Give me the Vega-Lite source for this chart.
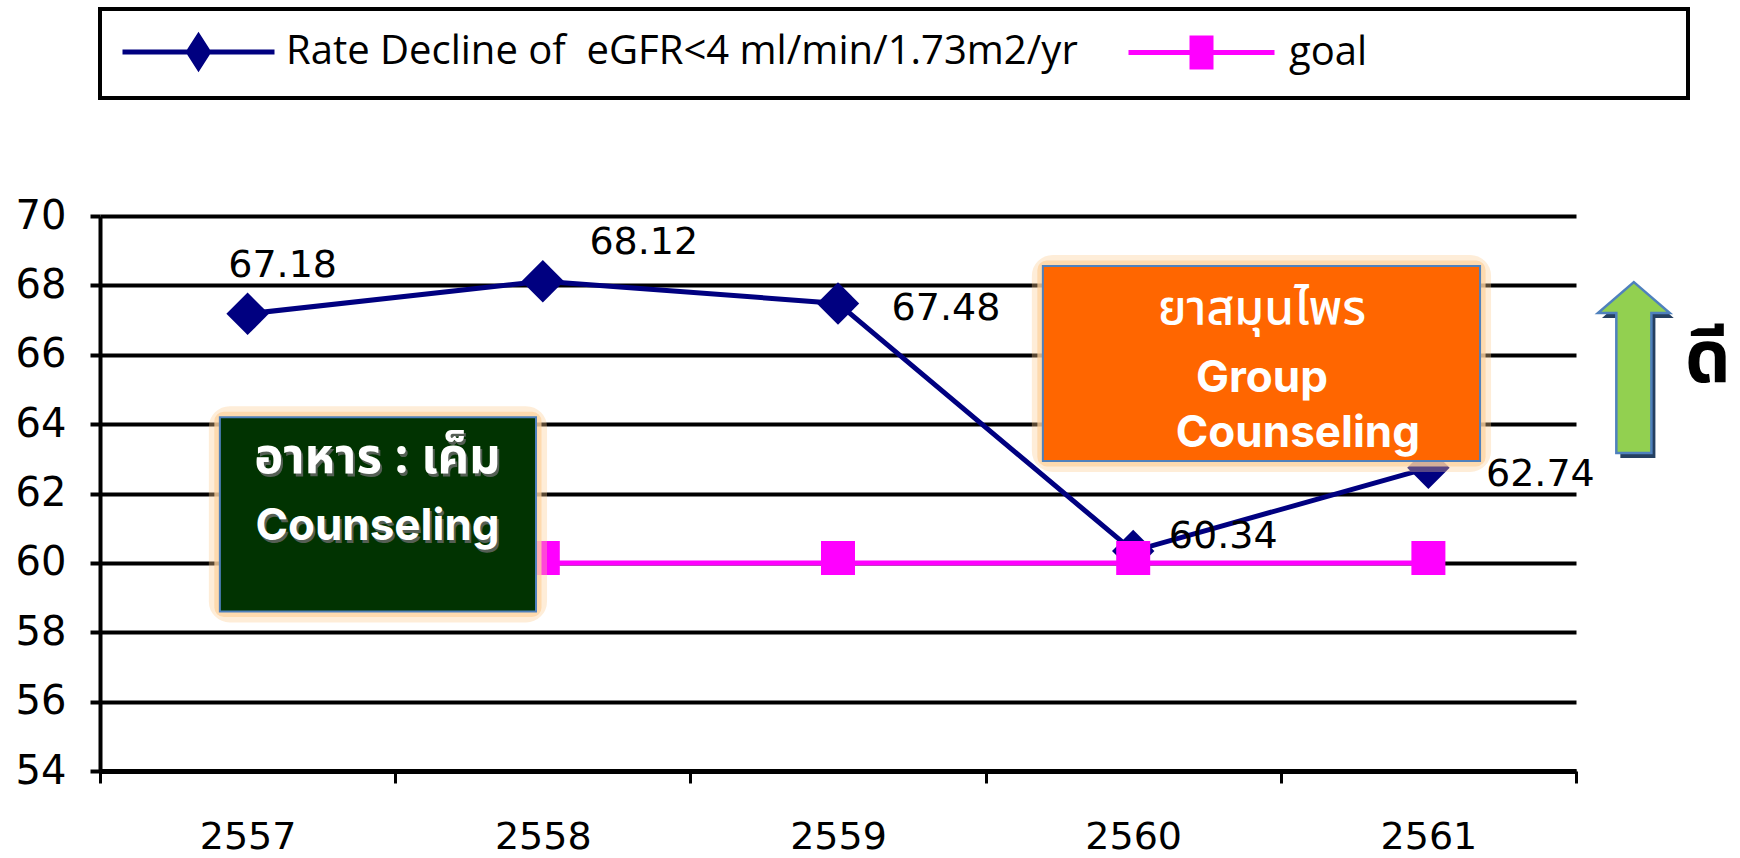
{
  "$schema": "https://vega.github.io/schema/vega-lite/v6.json",
  "width": 1476,
  "height": 555,
  "autosize": {"type": "none"},
  "padding": {"left": 100, "top": 216, "right": 164, "bottom": 87},
  "background": "white",
  "config": {"view": {"stroke": null}, "legend": {"strokeWidth": 4}},
  "datasets": {
    "series": [
      {"year": "2557", "series": "Rate Decline of  eGFR<4 ml/min/1.73m2/yr", "value": 67.18},
      {"year": "2558", "series": "Rate Decline of  eGFR<4 ml/min/1.73m2/yr", "value": 68.12},
      {"year": "2559", "series": "Rate Decline of  eGFR<4 ml/min/1.73m2/yr", "value": 67.48},
      {"year": "2560", "series": "Rate Decline of  eGFR<4 ml/min/1.73m2/yr", "value": 60.34},
      {"year": "2561", "series": "Rate Decline of  eGFR<4 ml/min/1.73m2/yr", "value": 62.74},
      {"year": "2557", "series": "goal", "value": 60},
      {"year": "2558", "series": "goal", "value": 60},
      {"year": "2559", "series": "goal", "value": 60},
      {"year": "2560", "series": "goal", "value": 60},
      {"year": "2561", "series": "goal", "value": 60}
    ],
    "boxes": [
      {"box": "diet", "x1": 2556.906, "x2": 2557.977, "y1": 58.6, "y2": 64.2},
      {"box": "herb", "x1": 2559.694, "x2": 2561.175, "y1": 62.94, "y2": 68.56}
    ],
    "notes": [
      {"box": "diet", "line": "thai", "text": "อาหาร : เค็ม", "x": 2557.44, "y": 62.59},
      {"box": "diet", "line": "latin", "text": "Counseling", "x": 2557.44, "y": 60.66},
      {"box": "herb", "line": "thai", "text": "ยาสมุนไพร", "x": 2560.436, "y": 66.89},
      {"box": "herb", "line": "latin", "text": "Group", "x": 2560.436, "y": 64.93},
      {"box": "herb", "line": "latin", "text": "Counseling", "x": 2560.558, "y": 63.34}
    ],
    "marker": [
      {"item": "arrow", "label": "", "x": 2561.696, "y": 65.63},
      {"item": "word", "label": "ดี", "x": 2561.869, "y": 65.21}
    ]
  },
  "layer": [
    {
      "data": {"name": "series"},
      "encoding": {
        "x": {
          "field": "year",
          "type": "ordinal",
          "scale": {"paddingInner": 0, "paddingOuter": 0},
          "axis": {
            "title": null,
            "labelAngle": 0,
            "tickBand": "extent",
            "grid": false,
            "tickSize": 12,
            "tickWidth": 3,
            "tickColor": "black",
            "domainColor": "black",
            "domainWidth": 5,
            "labelPadding": 35,
            "labelFont": "DejaVu Sans",
            "labelFontSize": 38,
            "labelColor": "black"
          }
        },
        "y": {
          "field": "value",
          "type": "quantitative",
          "scale": {"domain": [54, 70], "nice": false, "zero": false},
          "axis": {
            "title": null,
            "values": [54, 56, 58, 60, 62, 64, 66, 68, 70],
            "grid": true,
            "gridColor": "black",
            "gridWidth": 4,
            "domainColor": "black",
            "domainWidth": 4,
            "tickColor": "black",
            "tickWidth": 4,
            "tickSize": 10,
            "labelPadding": 24,
            "labelFont": "DejaVu Sans",
            "labelFontSize": 40,
            "labelColor": "black"
          }
        }
      },
      "layer": [
        {
          "transform": [{"filter": "datum.series !== 'goal'"}],
          "mark": {"type": "line", "color": "#000080", "strokeWidth": 5}
        },
        {
          "transform": [{"filter": "datum.series !== 'goal'"}],
          "mark": {"type": "point", "shape": "diamond", "size": 1800, "filled": true, "color": "#000080", "opacity": 1}
        },
        {
          "transform": [{"filter": "datum.series === 'goal'"}],
          "mark": {"type": "line", "color": "#FF00FF", "strokeWidth": 5}
        },
        {
          "transform": [{"filter": "datum.series === 'goal'"}],
          "mark": {"type": "point", "shape": "M-1,-1.29H1V0.71H-1Z", "size": 1156, "filled": true, "color": "#FF00FF", "opacity": 1}
        },
        {
          "transform": [{"filter": "datum.value > 100"}],
          "mark": {"type": "point", "filled": true, "opacity": 1},
          "encoding": {
            "fill": {
              "field": "series",
              "type": "nominal",
              "scale": {"domain": ["Rate Decline of  eGFR<4 ml/min/1.73m2/yr", "goal"], "range": ["#000080", "#FF00FF"]},
              "legend": {
                "orient": "none",
                "legendX": 0,
                "legendY": -207,
                "direction": "horizontal",
                "title": null,
                "symbolSize": 1600,
                "symbolStrokeWidth": 5,
                "symbolOpacity": 1,
                "symbolOffset": 56,
                "labelOffset": 65,
                "labelFont": "Open Sans",
                "labelFontSize": 40,
                "labelColor": "black",
                "labelLimit": 2000,
                "columnPadding": 40,
                "padding": 20,
                "strokeColor": "black",
                "fillColor": "white",
                "labelExpr": "datum.label === 'goal' ? 'goal\u2003\u2003\u2003\u2003\u2003\u2003\u2003\u2002\u200b' : replace(datum.label, '  ', ' \u00a0')"
              }
            },
            "stroke": {
              "field": "series",
              "type": "nominal",
              "scale": {"domain": ["Rate Decline of  eGFR<4 ml/min/1.73m2/yr", "goal"], "range": ["#000080", "#FF00FF"]}
            },
            "shape": {
              "field": "series",
              "type": "nominal",
              "scale": {
                "domain": ["Rate Decline of  eGFR<4 ml/min/1.73m2/yr", "goal"],
                "range": [
                  "M-3.8,0H3.8M-0.5,0L0,-0.78L0.5,0L0,0.78Z",
                  "M-3.65,0H3.65M-0.475,-0.725H0.475V0.725H-0.475Z"
                ]
              }
            }
          }
        },
        {
          "transform": [{"filter": "datum.series !== 'goal' && datum.year === '2557'"}],
          "mark": {"type": "text", "font": "DejaVu Sans", "fontSize": 38, "color": "black", "align": "center", "baseline": "alphabetic", "dx": 35, "dy": -37},
          "encoding": {"text": {"field": "value", "type": "quantitative", "format": ".2f"}}
        },
        {
          "transform": [{"filter": "datum.series !== 'goal' && datum.year === '2558'"}],
          "mark": {"type": "text", "font": "DejaVu Sans", "fontSize": 38, "color": "black", "align": "center", "baseline": "alphabetic", "dx": 101, "dy": -27},
          "encoding": {"text": {"field": "value", "type": "quantitative", "format": ".2f"}}
        },
        {
          "transform": [{"filter": "datum.series !== 'goal' && datum.year === '2559'"}],
          "mark": {"type": "text", "font": "DejaVu Sans", "fontSize": 38, "color": "black", "align": "center", "baseline": "alphabetic", "dx": 108, "dy": 17},
          "encoding": {"text": {"field": "value", "type": "quantitative", "format": ".2f"}}
        },
        {
          "transform": [{"filter": "datum.series !== 'goal' && datum.year === '2560'"}],
          "mark": {"type": "text", "font": "DejaVu Sans", "fontSize": 38, "color": "black", "align": "center", "baseline": "alphabetic", "dx": 90, "dy": -3},
          "encoding": {"text": {"field": "value", "type": "quantitative", "format": ".2f"}}
        },
        {
          "transform": [{"filter": "datum.series !== 'goal' && datum.year === '2561'"}],
          "mark": {"type": "text", "font": "DejaVu Sans", "fontSize": 38, "color": "black", "align": "center", "baseline": "alphabetic", "dx": 112, "dy": 18},
          "encoding": {"text": {"field": "value", "type": "quantitative", "format": ".2f"}}
        }
      ]
    },
    {
      "encoding": {
        "y": {"field": "y", "type": "quantitative", "scale": {"domain": [54, 70], "nice": false, "zero": false}}
      },
      "layer": [
        {
          "data": {"name": "boxes"},
          "mark": {"type": "rect", "fill": "transparent", "stroke": "#FCCB8E", "strokeWidth": 22, "strokeOpacity": 0.35, "cornerRadius": 10},
          "encoding": {
            "x": {"field": "x1", "type": "quantitative", "scale": {"domain": [2556.5, 2561.5], "nice": false, "zero": false}, "axis": null},
            "x2": {"field": "x2"},
            "y": {"field": "y1", "type": "quantitative"},
            "y2": {"field": "y2"}
          }
        },
        {
          "data": {"name": "boxes"},
          "mark": {"type": "rect", "fill": "transparent", "stroke": "#FDD3A0", "strokeWidth": 11, "strokeOpacity": 0.75, "cornerRadius": 4},
          "encoding": {
            "x": {"field": "x1", "type": "quantitative", "scale": {"domain": [2556.5, 2561.5], "nice": false, "zero": false}, "axis": null},
            "x2": {"field": "x2"},
            "y": {"field": "y1", "type": "quantitative"},
            "y2": {"field": "y2"}
          }
        },
        {
          "data": {"name": "boxes"},
          "transform": [{"filter": "datum.box === 'diet'"}],
          "mark": {"type": "rect", "fill": "#013301", "stroke": "#4F81BD", "strokeWidth": 2},
          "encoding": {
            "x": {"field": "x1", "type": "quantitative", "scale": {"domain": [2556.5, 2561.5], "nice": false, "zero": false}, "axis": null},
            "x2": {"field": "x2"},
            "y": {"field": "y1", "type": "quantitative"},
            "y2": {"field": "y2"}
          }
        },
        {
          "data": {"name": "boxes"},
          "transform": [{"filter": "datum.box === 'herb'"}],
          "mark": {"type": "rect", "fill": "#FF6600", "stroke": "#4F81BD", "strokeWidth": 2},
          "encoding": {
            "x": {"field": "x1", "type": "quantitative", "scale": {"domain": [2556.5, 2561.5], "nice": false, "zero": false}, "axis": null},
            "x2": {"field": "x2"},
            "y": {"field": "y1", "type": "quantitative"},
            "y2": {"field": "y2"}
          }
        },
        {
          "data": {"name": "notes"},
          "transform": [{"filter": "datum.box === 'diet' && datum.line === 'thai'"}],
          "mark": {"type": "text", "font": "Noto Sans Thai, Noto Sans, sans-serif", "fontWeight": "bold", "fontSize": 49, "color": "#6b6b6b", "opacity": 0.8, "align": "center", "baseline": "alphabetic", "dx": 2, "dy": 3},
          "encoding": {
            "x": {"field": "x", "type": "quantitative", "scale": {"domain": [2556.5, 2561.5], "nice": false, "zero": false}, "axis": null},
            "text": {"field": "text"}
          }
        },
        {
          "data": {"name": "notes"},
          "transform": [{"filter": "datum.box === 'diet' && datum.line === 'latin'"}],
          "mark": {"type": "text", "font": "Inter", "fontWeight": "bold", "fontSize": 44, "color": "#6b6b6b", "opacity": 0.8, "align": "center", "baseline": "alphabetic", "dx": 2, "dy": 3},
          "encoding": {
            "x": {"field": "x", "type": "quantitative", "scale": {"domain": [2556.5, 2561.5], "nice": false, "zero": false}, "axis": null},
            "text": {"field": "text"}
          }
        },
        {
          "data": {"name": "notes"},
          "transform": [{"filter": "datum.box === 'diet' && datum.line === 'thai'"}],
          "mark": {"type": "text", "font": "Noto Sans Thai, Noto Sans, sans-serif", "fontWeight": "bold", "fontSize": 49, "color": "white", "align": "center", "baseline": "alphabetic"},
          "encoding": {
            "x": {"field": "x", "type": "quantitative", "scale": {"domain": [2556.5, 2561.5], "nice": false, "zero": false}, "axis": null},
            "text": {"field": "text"}
          }
        },
        {
          "data": {"name": "notes"},
          "transform": [{"filter": "datum.box === 'herb' && datum.line === 'thai'"}],
          "mark": {"type": "text", "font": "Noto Sans Thai, Noto Sans, sans-serif", "fontWeight": 500, "fontSize": 48, "color": "white", "align": "center", "baseline": "alphabetic"},
          "encoding": {
            "x": {"field": "x", "type": "quantitative", "scale": {"domain": [2556.5, 2561.5], "nice": false, "zero": false}, "axis": null},
            "text": {"field": "text"}
          }
        },
        {
          "data": {"name": "notes"},
          "transform": [{"filter": "datum.line === 'latin'"}],
          "mark": {"type": "text", "font": "Inter", "fontWeight": "bold", "fontSize": 44, "color": "white", "align": "center", "baseline": "alphabetic"},
          "encoding": {
            "x": {"field": "x", "type": "quantitative", "scale": {"domain": [2556.5, 2561.5], "nice": false, "zero": false}, "axis": null},
            "text": {"field": "text"}
          }
        },
        {
          "data": {"name": "marker"},
          "transform": [{"filter": "datum.item === 'arrow'"}],
          "mark": {"type": "point", "shape": "M0.047,-0.942L0.467,-0.579L0.252,-0.579L0.252,1.058L-0.158,1.058L-0.158,-0.579L-0.373,-0.579Z", "size": 29241, "filled": true, "fill": "#254061", "opacity": 1},
          "encoding": {
            "x": {"field": "x", "type": "quantitative", "scale": {"domain": [2556.5, 2561.5], "nice": false, "zero": false}, "axis": null}
          }
        },
        {
          "data": {"name": "marker"},
          "transform": [{"filter": "datum.item === 'arrow'"}],
          "mark": {"type": "point", "shape": "M0,-1L0.42,-0.637L0.205,-0.637L0.205,1L-0.205,1L-0.205,-0.637L-0.42,-0.637Z", "size": 29241, "filled": true, "fill": "#92D050", "stroke": "#4F81BD", "strokeWidth": 2.5, "opacity": 1},
          "encoding": {
            "x": {"field": "x", "type": "quantitative", "scale": {"domain": [2556.5, 2561.5], "nice": false, "zero": false}, "axis": null}
          }
        },
        {
          "data": {"name": "marker"},
          "transform": [{"filter": "datum.item === 'word'"}],
          "mark": {"type": "text", "font": "Noto Sans Thai, Noto Sans, sans-serif", "fontWeight": "bold", "fontSize": 72, "color": "black", "align": "left", "baseline": "alphabetic"},
          "encoding": {
            "x": {"field": "x", "type": "quantitative", "scale": {"domain": [2556.5, 2561.5], "nice": false, "zero": false}, "axis": null},
            "text": {"field": "label"}
          }
        }
      ]
    }
  ],
  "resolve": {"scale": {"x": "independent"}}
}
